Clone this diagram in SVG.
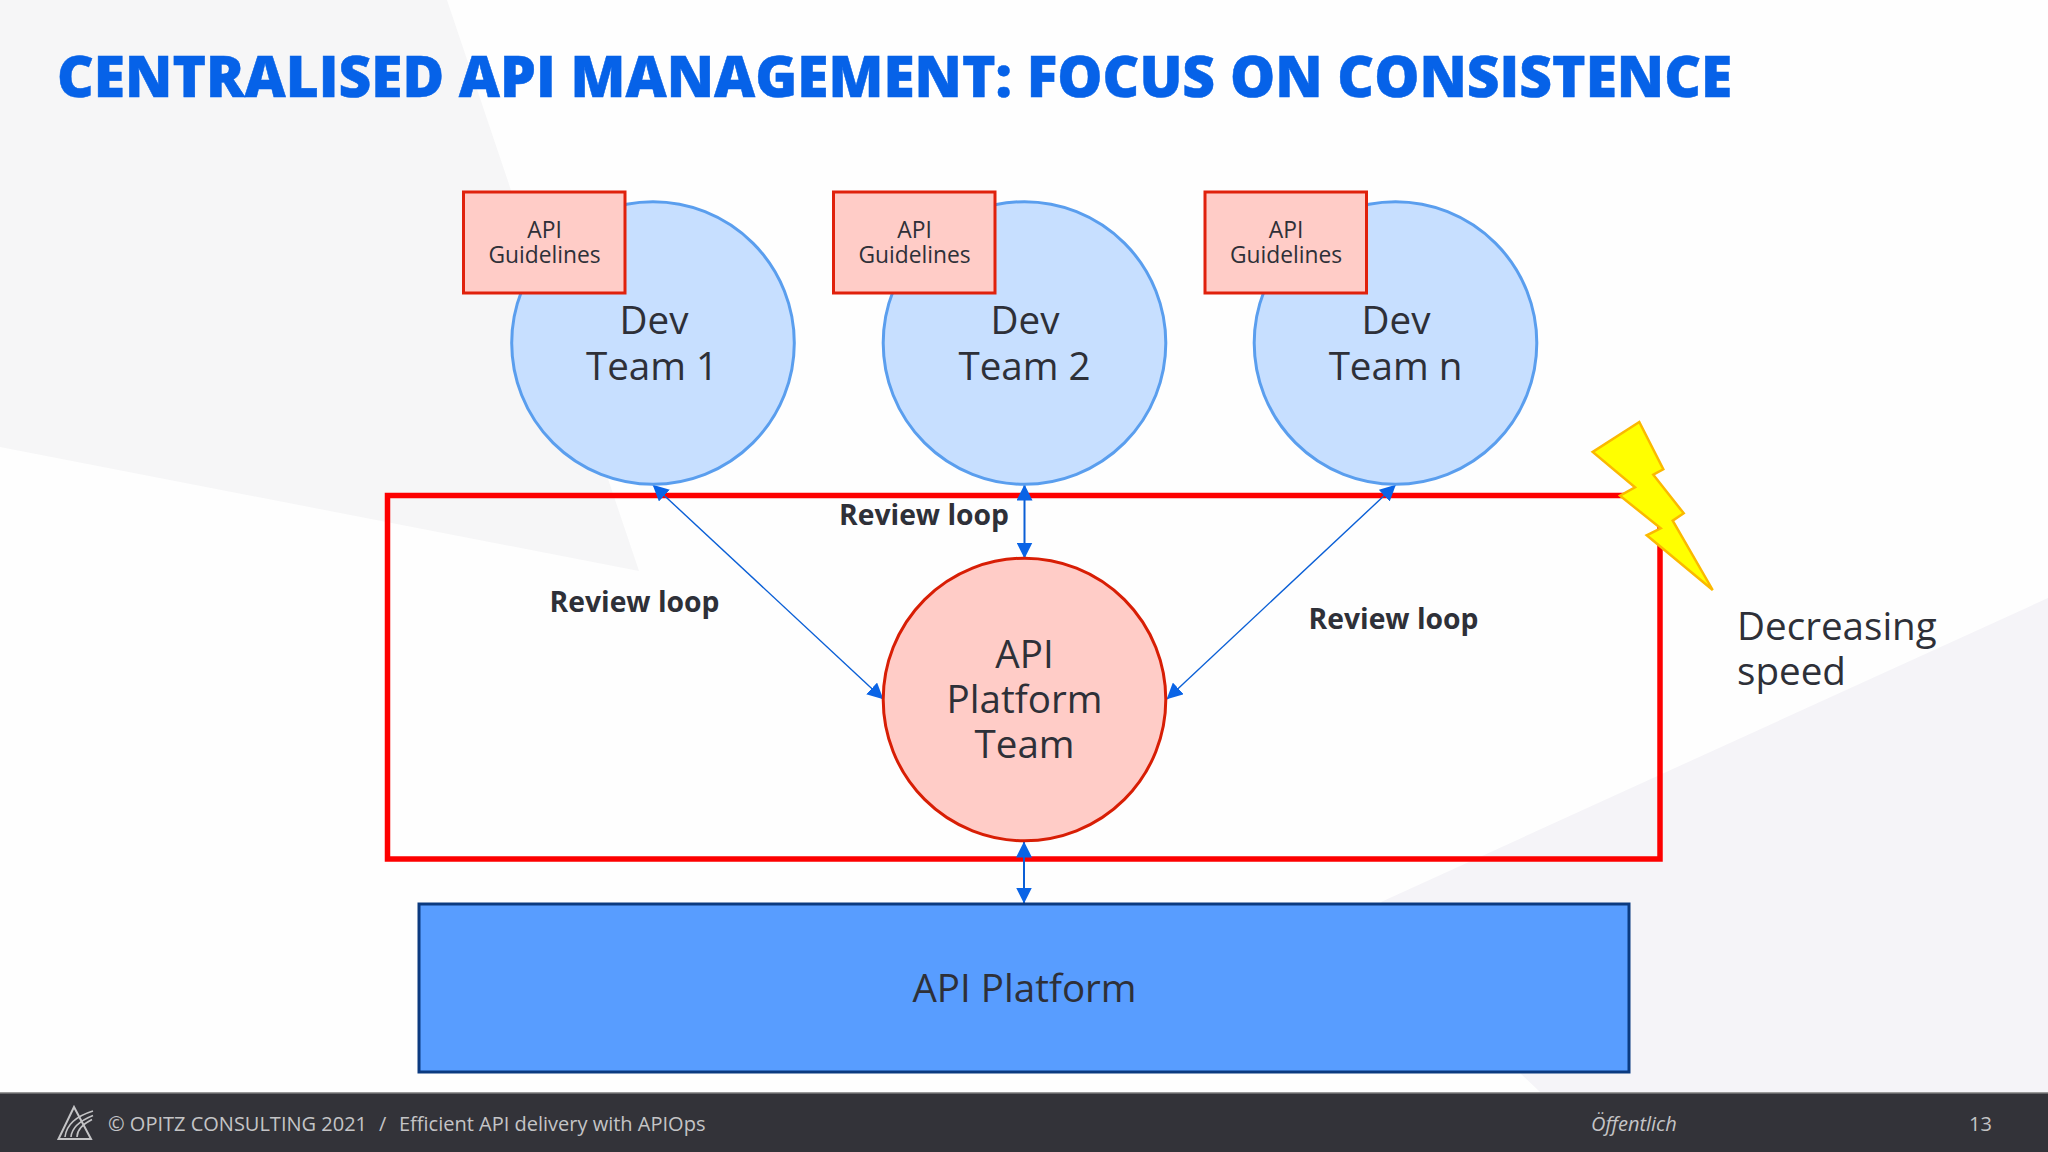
<svg xmlns="http://www.w3.org/2000/svg" width="2048" height="1152" viewBox="0 0 2048 1152">
<defs>
<style>
text{font-family:"Open Sans","Noto Sans","Liberation Sans",sans-serif;fill:#2e3038}
.m{text-anchor:middle;font-size:38.6px}
.g{text-anchor:middle;font-size:22.8px}
.b{font-weight:700;font-size:28.3px}
.f{font-size:20px;fill:#c4c4c6}
.dev{fill:#c7dfff;stroke:#5a9eee;stroke-width:3}
.gl{fill:#ffccc7;stroke:#e0210c;stroke-width:3}
.c{fill:none;stroke:#0a5fd6}
.lg{fill:none;stroke:#c4c4c6}
</style>
<marker id="a" viewBox="0 0 16 16" refX="15.5" refY="8" markerUnits="userSpaceOnUse" markerWidth="16" markerHeight="16" orient="auto-start-reverse"><path d="M0 0L16 8L0 16Z" fill="#0a64e6"/></marker>
</defs>
<rect width="2048" height="1152" fill="#fefefe"/>
<g id="background">
<polygon points="0,0 447,0 639,571 0,447" fill="#f6f6f7"/>
<polygon points="2048,598 1381,902 1519,1072 1540,1092 2048,1092" fill="#f5f4f8"/>
</g>
<g id="frame"><rect x="387.5" y="495.5" width="1272.5" height="363.5" fill="none" stroke="#fd0000" stroke-width="5.5"/></g>
<text x="57" y="97" font-size="56.8" font-weight="800" stroke="#0662e8" stroke-width=".5" style="fill:#0662e8" id="title">CENTRALISED API MANAGEMENT: FOCUS ON CONSISTENCE</text>
<g id="connectors">
<line class="c" stroke-width="1.4" x1="653" y1="485" x2="883" y2="699" marker-start="url(#a)" marker-end="url(#a)"/>
<line class="c" stroke-width="1.4" x1="1395.5" y1="485" x2="1167" y2="699" marker-start="url(#a)" marker-end="url(#a)"/>
<line class="c" stroke-width="2" x1="1024.5" y1="485" x2="1024.5" y2="558" marker-start="url(#a)" marker-end="url(#a)"/>
<line class="c" stroke-width="2" x1="1024" y1="842" x2="1024" y2="903" marker-start="url(#a)" marker-end="url(#a)"/>
</g>
<g id="dev1"><circle class="dev" cx="653" cy="343" r="141.3"/><text class="m"><tspan x="654" y="334">Dev</tspan><tspan x="652" y="380">Team 1</tspan></text></g>
<g id="guidelines1"><rect class="gl" x="463.5" y="192" width="161.5" height="101"/><text class="g"><tspan x="544.5" y="238">API</tspan><tspan x="544.5" y="263">Guidelines</tspan></text></g>
<g id="dev2"><circle class="dev" cx="1024.5" cy="343" r="141.3"/><text class="m"><tspan x="1025" y="334">Dev</tspan><tspan x="1024.5" y="380">Team 2</tspan></text></g>
<g id="guidelines2"><rect class="gl" x="833.5" y="192" width="161.5" height="101"/><text class="g"><tspan x="914.5" y="238">API</tspan><tspan x="914.5" y="263">Guidelines</tspan></text></g>
<g id="devn"><circle class="dev" cx="1395.5" cy="343" r="141.3"/><text class="m"><tspan x="1396" y="334">Dev</tspan><tspan x="1395.5" y="380">Team n</tspan></text></g>
<g id="guidelinesn"><rect class="gl" x="1205" y="192" width="161.5" height="101"/><text class="g"><tspan x="1286" y="238">API</tspan><tspan x="1286" y="263">Guidelines</tspan></text></g>
<g id="platformteam"><circle cx="1024.5" cy="699.5" r="141.3" fill="#ffccc7" stroke="#d81e05" stroke-width="3"/><text class="m"><tspan x="1024.5" y="668">API</tspan><tspan x="1024.5" y="713">Platform</tspan><tspan x="1024.5" y="758">Team</tspan></text></g>
<g id="platform"><rect x="419" y="904" width="1210" height="168" fill="#589dff" stroke="#0b3a80" stroke-width="3"/><text class="m" x="1024.5" y="1002">API Platform</text></g>
<g id="labels">
<text class="b" x="839" y="525">Review loop</text>
<text class="b" x="549.5" y="612">Review loop</text>
<text class="b" x="1308.5" y="629">Review loop</text>
</g>
<g id="bolt"><polygon points="1639.3,422 1663.3,469.3 1653.3,474.7 1683.7,513.3 1672.7,520.7 1712.7,590 1646.7,535.3 1660.7,528.3 1620,495.7 1635,487.3 1592.7,452" fill="#ffff00" stroke="#fbb900" stroke-width="2.5"/>
<text font-size="38.6" x="1737" y="640">Decreasing</text><text font-size="38.6" x="1737" y="685">speed</text></g>
<g id="footer">
<rect y="1093" width="2048" height="59" fill="#333339"/><rect y="1092" width="2048" height="1.5" fill="#999"/>
<polygon class="lg" stroke-width="2" points="74,1107 91,1139 58.5,1139"/>
<path class="lg" stroke-width="1.6" d="M65 1137Q67 1119 93 1111M71 1137Q72 1124 93 1115.5M77 1137Q77 1127 92 1119.5"/>
<text class="f" x="108" y="1130.5">© OPITZ CONSULTING 2021</text>
<text class="f" x="379" y="1130.5">/</text>
<text class="f" x="399" y="1130.5">Efficient API delivery with APIOps</text>
<text class="f" x="1591" y="1130.5" font-style="italic">Öffentlich</text>
<text class="f" x="1969" y="1130.5">13</text>
</g>
</svg>
